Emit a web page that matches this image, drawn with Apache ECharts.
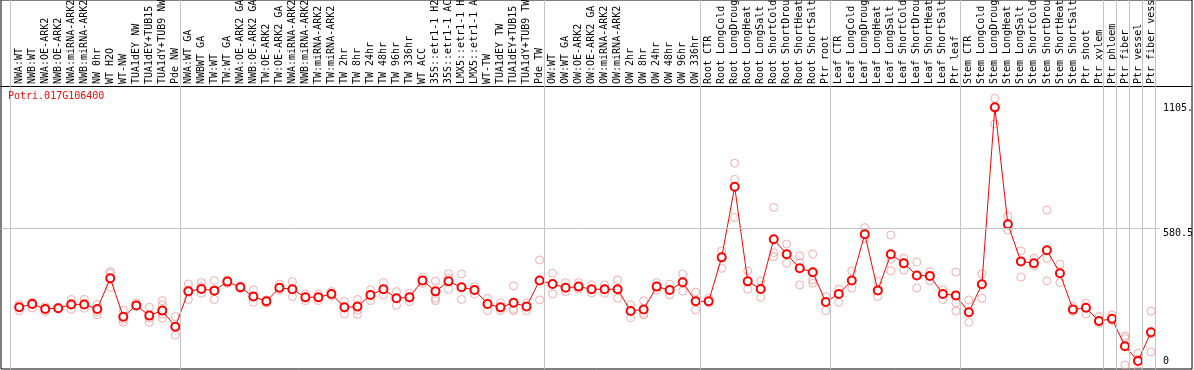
<!DOCTYPE html>
<html>
<head>
<meta charset="utf-8">
<script src="https://cdn.jsdelivr.net/npm/echarts@6/dist/echarts.min.js"></script>
<style>
html, body { margin: 0; padding: 0; background: #fff; }
#chart { width: 1194px; height: 370px; }
</style>
</head>
<body>
<div id="chart"></div>
<script>
const geneTitle = 'Potri.017G106400';

const categories = [
  'NWA:WT', 'NWB:WT', 'NWA:OE-ARK2', 'NWB:OE-ARK2', 'NWA:miRNA-ARK2', 'NWB:miRNA-ARK2', 'NW 0hr', 'WT H2O', 'WT-NW', 'TUA1dEY NW', 'TUA1dEY+TUB15', 'TUA1dY+TUB9 NW', 'Pde NW',
  'NWA:WT GA', 'NWBWT GA', 'TW:WT', 'TW:WT GA', 'NWA:OE-ARK2 GA', 'NWB:OE-ARK2 GA', 'TW:OE-ARK2', 'TW:OE-ARK2 GA', 'NWA:miRNA-ARK2 GA', 'NWB:miRNA-ARK2 GA', 'TW:miRNA-ARK2', 'TW:miRNA-ARK2 GA',
  'TW 2hr', 'TW 8hr', 'TW 24hr', 'TW 48hr', 'TW 96hr', 'TW 336hr', 'WT ACC', '35S::etr1-1 H2O', '35S::etr1-1 ACC', 'LMX5::etr1-1 H2O', 'LMX5::etr1-1 ACC', 'WT-TW', 'TUA1dEY TW', 'TUA1dEY+TUB15 TW', 'TUA1dY+TUB9 TW', 'Pde TW',
  'OW:WT', 'OW:WT GA', 'OW:OE-ARK2', 'OW:OE-ARK2 GA', 'OW:miRNA-ARK2', 'OW:miRNA-ARK2 GA', 'OW 2hr', 'OW 8hr', 'OW 24hr', 'OW 48hr', 'OW 96hr', 'OW 336hr',
  'Root CTR', 'Root LongCold', 'Root LongDrought', 'Root LongHeat', 'Root LongSalt', 'Root ShortCold', 'Root ShortDrought', 'Root ShortHeat', 'Root ShortSalt', 'Ptr root',
  'Leaf CTR', 'Leaf LongCold', 'Leaf LongDrought', 'Leaf LongHeat', 'Leaf LongSalt', 'Leaf ShortCold', 'Leaf ShortDrought', 'Leaf ShortHeat', 'Leaf ShortSalt', 'Ptr leaf',
  'Stem CTR', 'Stem LongCold', 'Stem LongDrought', 'Stem LongHeat', 'Stem LongSalt', 'Stem ShortCold', 'Stem ShortDrought', 'Stem ShortHeat', 'Stem ShortSalt', 'Ptr shoot', 'Ptr xylem',
  'Ptr phloem', 'Ptr fiber', 'Ptr vessel', 'Ptr fiber vessel'
];

// number of categories in each group (group separators are drawn after each)
const groupSizes = [13, 28, 12, 10, 10, 11, 1, 1, 1, 1];

const meanValues = [
  247, 261, 240, 243, 259, 259, 240, 369, 207, 255, 212, 233, 165,
  314, 324, 317, 355, 331, 292, 272, 329, 323, 289, 289, 303, 247, 250, 299, 323, 285, 289, 360, 314, 356, 331, 320, 261, 247, 266, 250, 360,
  345, 329, 334, 323, 323, 323, 231, 238, 334, 320, 352, 272,
  272, 457, 754, 356, 324, 533, 470, 411, 394, 269,
  303, 360, 554, 318, 470, 432, 381, 379, 303, 297,
  226, 344, 1088, 596, 440, 432, 487, 390, 238, 245, 189,
  199, 83, 21, 142
];

const replicateValues = [
  [259, 250, 233], [269, 264, 244], [250, 240, 229], [247, 243, 240], [280, 264, 238], [280, 264, 243], [259, 229, 215], [397, 390, 331], [236, 196, 184], [266, 257, 252], [247, 201, 184], [275, 257, 219, 201], [208, 165, 130],
  [345, 320, 280], [351, 334, 306], [359, 320, 280], [362, 355, 348], [337, 331, 325], [320, 292, 268], [278, 271, 264], [344, 331, 320], [355, 323, 292], [303, 285, 275], [303, 285, 275], [313, 303, 294],
  [271, 243, 219], [280, 236, 217], [320, 299, 275], [351, 323, 299], [313, 285, 255], [306, 285, 271], [373, 360, 348], [358, 285, 275], [388, 369, 323], [387, 331, 280], [334, 320, 303], [285, 261, 233], [266, 243, 233], [337, 238, 233], [264, 250, 233], [446, 360, 278],
  [390, 345, 303], [351, 330, 313], [351, 334, 323], [341, 323, 308], [341, 323, 306], [362, 323, 285], [257, 231, 203], [275, 222, 215], [351, 334, 320], [344, 320, 299], [387, 352, 315], [311, 272, 236],
  [285, 272, 264], [484, 457, 411], [853, 785, 625], [400, 356, 323], [358, 324, 289], [667, 477, 460], [513, 470, 432], [463, 435, 341], [471, 362, 348], [292, 269, 233],
  [323, 303, 268], [400, 360, 327], [582, 554, 537], [355, 318, 292], [551, 449, 400], [453, 432, 404], [437, 381, 328], [397, 379, 359], [320, 303, 280], [395, 266, 231],
  [278, 226, 184], [387, 344, 285], [1126, 1088, 1018], [631, 596, 572], [484, 440, 374], [453, 432, 421], [656, 453, 358], [428, 390, 351], [250, 238, 229], [264, 245, 219], [208, 189, 180],
  [215, 199, 191], [126, 116, 4], [53, 29, -20], [231, 135, 59]
];

const yGridValue = 580.5;
const yLabelValues = [580.5, 1105];
const yZeroLabel = [0];

// ---------- build options ----------
const FONT = 'DejaVu Sans Mono';
const X_MIN = -1.399, X_MAX = 90.153;
const Y_MIN = -12.62, Y_MAX = 1539.6;

const meanData = meanValues.map((v, i) => [i, v]);
const repData = [];
replicateValues.forEach((arr, i) => arr.forEach(v => repData.push([i, v])));

const sepLines = [];
let acc = 0;
sepLines.push({ xAxis: -0.65 });
groupSizes.forEach(n => { acc += n; sepLines.push({ xAxis: acc - 0.65 }); });

const chart = echarts.init(document.getElementById('chart'), null, { renderer: 'canvas' });
chart.setOption({
  animation: false,
  backgroundColor: '#fff',
  title: {
    text: geneTitle,
    left: 8,
    top: 91,
    padding: 0,
    textStyle: { color: '#ff0000', fontFamily: FONT, fontSize: 10, fontWeight: 'normal' }
  },
  grid: {
    left: 1, right: 2, top: 0, bottom: 1,
    outerBoundsMode: 'none',
    containLabel: false,
    show: true, borderColor: '#000', borderWidth: 1, backgroundColor: 'transparent'
  },
  xAxis: {
    type: 'value',
    min: X_MIN, max: X_MAX,
    position: 'top',
    offset: -86,
    axisLine: { show: true, onZero: false, lineStyle: { color: '#000', width: 1 } },
    axisTick: { show: false },
    splitLine: { show: false },
    axisLabel: {
      customValues: categories.map((c, i) => i),
      formatter: v => categories[Math.round(v)],
      rotate: -90,
      margin: 2,
      fontFamily: FONT,
      fontSize: 10,
      color: '#000'
    }
  },
  yAxis: [
    {
      type: 'value', min: Y_MIN, max: Y_MAX, position: 'right',
      axisLine: { show: false, onZero: false },
      axisTick: { show: false },
      splitLine: { show: false },
      axisLabel: {
        customValues: yLabelValues,
        formatter: v => (v === 1105 ? '1105.' : String(v)),
        inside: true, align: 'left', verticalAlign: 'top', margin: 29,
        fontFamily: FONT, fontSize: 10, color: '#000'
      }
    },
    {
      type: 'value', min: Y_MIN, max: Y_MAX, position: 'right',
      axisLine: { show: false, onZero: false },
      axisTick: { show: false },
      splitLine: { show: false },
      axisLabel: {
        customValues: yZeroLabel,
        formatter: v => String(v),
        inside: true, align: 'left', verticalAlign: 'bottom', margin: 29,
        fontFamily: FONT, fontSize: 10, color: '#000'
      }
    }
  ],
  series: [
    {
      type: 'line',
      data: [],
      silent: true,
      markLine: {
        silent: true,
        symbol: 'none',
        label: { show: false },
        lineStyle: { color: '#c4c4c4', width: 1, type: 'solid' },
        data: sepLines.concat([[{ coord: [X_MIN, yGridValue] }, { coord: [87.7, yGridValue] }]])
      }
    },
    {
      type: 'scatter',
      data: repData,
      clip: false,
      silent: true,
      symbol: 'circle',
      symbolSize: 8,
      itemStyle: { color: 'rgba(0,0,0,0)', borderColor: '#f09898', borderWidth: 1 },
      z: 3
    },
    {
      type: 'line',
      data: meanData,
      silent: true,
      symbol: 'emptyCircle',
      symbolSize: 8,
      showAllSymbol: true,
      lineStyle: { color: '#ff0000', width: 1 },
      itemStyle: { color: '#ff0000', borderColor: '#ff0000', borderWidth: 1.5 },
      z: 4
    }
  ]
});
</script>
</body>
</html>
